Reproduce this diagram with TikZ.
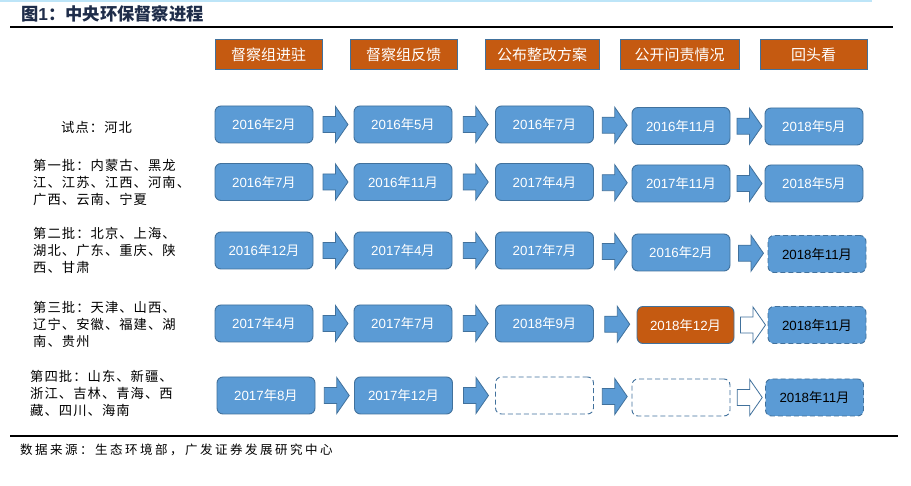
\documentclass[tikz,border=0pt]{standalone}
\usepackage{fontspec}
\setmainfont{Liberation Sans}
\newfontfamily\cjk{Noto Sans CJK SC}
\newfontfamily\cjklbl[LetterSpace=8]{Noto Sans CJK SC}
\newfontfamily\cjkfoot[LetterSpace=20]{Noto Sans CJK SC}
\newfontfamily\arial{Liberation Sans}
\usetikzlibrary{calc}
\definecolor{boxblue}{HTML}{5B9BD5}
\definecolor{boxedge}{HTML}{41719C}
\definecolor{hdrorange}{HTML}{C55A11}
\definecolor{topline}{HTML}{BDE5F8}
\definecolor{titlenavy}{HTML}{1F2D4A}
\newcommand\dt[2]{#1{\cjk 年}#2{\cjk 月}}
\tikzset{
 datebox/.style={rounded corners=6pt, fill=boxblue, draw=boxedge, line width=0.9pt,
   minimum width=98pt, minimum height=37pt, inner sep=0pt, text=white,
   font=\fontsize{13.3}{15}\selectfont\arial},
 dashbox/.style={datebox, dash pattern=on 5pt off 3pt, text=black},
 emptybox/.style={dashbox, fill=white},
 orangebox/.style={datebox, fill=hdrorange},
 hdrbox/.style={fill=hdrorange, draw=boxedge, line width=0.9pt, minimum height=30pt,
   inner sep=0pt, text=white, font=\fontsize{15}{17}\selectfont\cjk},
 lbl/.style={anchor=west, align=left, inner sep=0pt, font=\fontsize{13.3}{17}\selectfont\cjklbl},
 blockarrow/.style={fill=boxblue, draw=boxedge, line width=0.8pt, line join=miter},
 hollowarrow/.style={blockarrow, fill=white},
}
\newcommand\barrow[3][blockarrow]{%
  \coordinate (m) at ($(#2.east)!0.5!(#3.west)+(2,0)$);
  \draw[#1, shift={(m)}] (-12.5,-8) -- (0,-8) -- (0,-18) -- (12.5,0) -- (0,18) -- (0,8) -- (-12.5,8) -- cycle;}
\begin{document}
\begin{tikzpicture}[x=1pt,y=-1pt]
\useasboundingbox (0,0) rectangle (911,486);
\fill[white] (0,0) rectangle (911,486);
% rules
\draw[topline, line width=1.5pt] (0,1) -- (872,1);
\draw[black, line width=2pt] (10,27.5) -- (893,27.5);
\draw[black, line width=2pt] (10,436.5) -- (898,436.5);
% title
\node[anchor=west, inner sep=0pt, text=titlenavy, font=\fontsize{17.3}{19}\selectfont\bfseries] (title) at (21,14)
  {{\cjk 图}1{\cjk ：中央环保督察进程}};
% headers
\node[hdrbox, minimum width=107pt] (h1) at (268.5,54.5) {督察组进驻};
\node[hdrbox, minimum width=107pt] (h2) at (403.5,54.5) {督察组反馈};
\node[hdrbox, minimum width=114pt] (h3) at (542,54.5) {公布整改方案};
\node[hdrbox, minimum width=119pt] (h4) at (679.5,54.5) {公开问责情况};
\node[hdrbox, minimum width=107pt] (h5) at (813.5,54.5) {回头看};
% labels
\node[lbl] (l0) at (61,127) {试点：河北};
\node[lbl] (l1) at (33,182) {第一批：内蒙古、黑龙\\江、江苏、江西、河南、\\广西、云南、宁夏};
\node[lbl] (l2) at (33,250) {第二批：北京、上海、\\湖北、广东、重庆、陕\\西、甘肃};
\node[lbl] (l3) at (33,324) {第三批：天津、山西、\\辽宁、安徽、福建、湖\\南、贵州};
\node[lbl] (l4) at (30,393) {第四批：山东、新疆、\\浙江、吉林、青海、西\\藏、四川、海南};
% row 1
\node[datebox] (a1) at (264,124.5) {\dt{2016}{2}};
\node[datebox] (a2) at (403,124.5) {\dt{2016}{5}};
\node[datebox] (a3) at (544.5,124.5) {\dt{2016}{7}};
\node[datebox] (a4) at (681,126) {\dt{2016}{11}};
\node[datebox] (a5) at (814,126.5) {\dt{2018}{5}};
% row 2
\node[datebox] (b1) at (264,182) {\dt{2016}{7}};
\node[datebox] (b2) at (403,182) {\dt{2016}{11}};
\node[datebox] (b3) at (544.5,182) {\dt{2017}{4}};
\node[datebox] (b4) at (681,183.5) {\dt{2017}{11}};
\node[datebox] (b5) at (814,183.5) {\dt{2018}{5}};
% row 3
\node[datebox] (c1) at (264,250.5) {\dt{2016}{12}};
\node[datebox] (c2) at (403,250.5) {\dt{2017}{4}};
\node[datebox] (c3) at (544.5,250.5) {\dt{2017}{7}};
\node[datebox] (c4) at (681,252.5) {\dt{2016}{2}};
\node[dashbox] (c5) at (817,254) {\dt{2018}{11}};
% row 4
\node[datebox] (d1) at (264,323.5) {\dt{2017}{4}};
\node[datebox] (d2) at (403,323.5) {\dt{2017}{7}};
\node[datebox] (d3) at (544.5,323.5) {\dt{2018}{9}};
\node[orangebox, minimum width=97pt] (d4) at (685.5,325) {\dt{2018}{12}};
\node[dashbox] (d5) at (817,325) {\dt{2018}{11}};
% row 5
\node[datebox] (e1) at (266,395.5) {\dt{2017}{8}};
\node[datebox] (e2) at (403.5,395.5) {\dt{2017}{12}};
\node[emptybox] (e3) at (544.5,395.5) {};
\node[emptybox] (e4) at (681,397.5) {};
\node[dashbox] (e5) at (814.5,397.5) {\dt{2018}{11}};
% arrows
\barrow{a1}{a2}\barrow{a2}{a3}\barrow{a3}{a4}\barrow{a4}{a5}
\barrow{b1}{b2}\barrow{b2}{b3}\barrow{b3}{b4}\barrow{b4}{b5}
\barrow{c1}{c2}\barrow{c2}{c3}\barrow{c3}{c4}\barrow{c4}{c5}
\barrow{d1}{d2}\barrow{d2}{d3}\barrow{d3}{d4}\barrow[hollowarrow]{d4}{d5}
\barrow{e1}{e2}\barrow{e2}{e3}\barrow{e3}{e4}\barrow[hollowarrow]{e4}{e5}
% footer
\node[anchor=west, inner sep=0pt, font=\fontsize{12.5}{14}\selectfont\cjkfoot] (src) at (20,450)
  {数据来源：生态环境部，广发证券发展研究中心};
\end{tikzpicture}
\end{document}
